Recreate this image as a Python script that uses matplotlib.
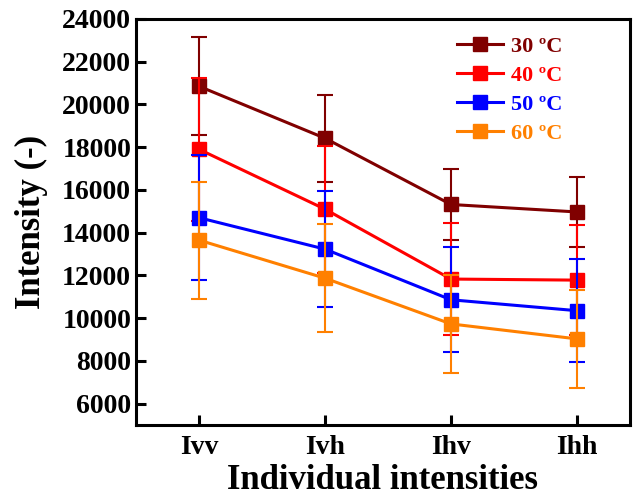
import matplotlib
matplotlib.use('Agg')
import matplotlib.pyplot as plt

# dados
categorias = ['Ivv', 'Ivh', 'Ihv', 'Ihh']
rotulos = ['30 ºC', '40 ºC', '50 ºC', '60 ºC']
cores = ['#800000', '#ff0000', '#0000ff', '#ff8000']

media_30 = [20850, 18420, 15320, 14970]
media_40 = [17900, 15100, 11830, 11780]
media_50 = [14700, 13230, 10860, 10350]
media_60 = [13650, 11870, 9730, 9030]

erro_30 = [2300, 2030, 1650, 1630]
erro_40 = [3360, 2980, 2600, 2560]
erro_50 = [2930, 2720, 2460, 2400]
erro_60 = [2740, 2540, 2300, 2300]

medias = [media_30, media_40, media_50, media_60]
erros = [erro_30, erro_40, erro_50, erro_60]

plt.rcParams['font.family'] = 'Liberation Serif'
plt.rcParams['font.weight'] = 'bold'

fig = plt.figure(figsize=(6.33, 5.0), dpi=100)
ax = fig.add_axes([0.215, 0.15, 0.78, 0.812])

x = list(range(len(categorias)))
for med, err, cor, rot in zip(medias, erros, cores, rotulos):
    ax.errorbar(x, med, yerr=err, color=cor, lw=0, elinewidth=1.5,
                capsize=5.5, capthick=1.5)
    ax.plot(x, med, color=cor, lw=2.2, marker='s', markersize=9.5, label=rot)

ax.set_xlim(-0.5, 3.42)
ax.set_ylim(5000, 24000)
ax.set_yticks(range(6000, 24001, 2000))
ax.set_xticks(x)
ax.set_xticklabels(categorias)

for s in ax.spines.values():
    s.set_linewidth(2.2)
ax.tick_params(direction='in', length=7, width=2.2, labelsize=20)
ax.tick_params(axis='x', pad=7)

ax.set_xlabel('Individual intensities', fontsize=25, fontweight='bold', labelpad=3)
ax.set_ylabel('Intensity (-)', fontsize=25, fontweight='bold', labelpad=10)

ax.legend(loc='upper right', frameon=False, fontsize=16, labelcolor='linecolor',
          handlelength=2.1, handletextpad=0.35, borderaxespad=0.3,
          labelspacing=0.38, bbox_to_anchor=(0.895, 0.995))

fig.savefig('out.png', dpi=100)
